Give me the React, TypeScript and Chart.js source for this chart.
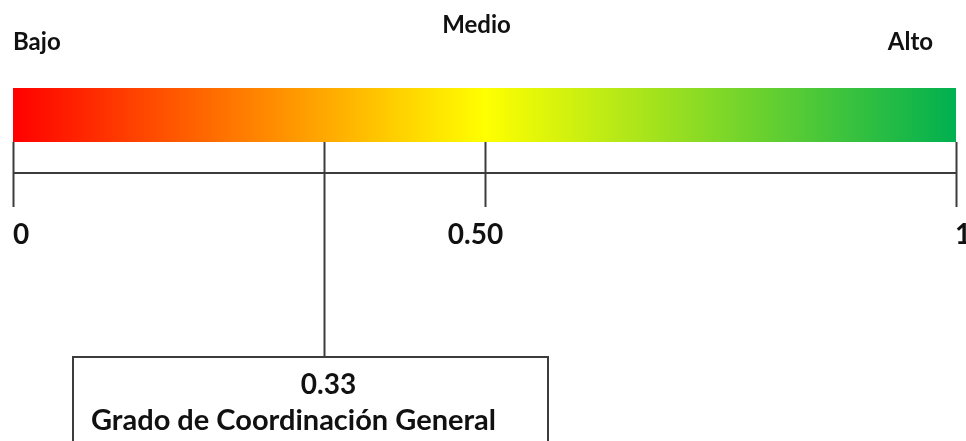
import React, { useEffect, useRef } from "react";
import { Chart, registerables } from "chart.js";

Chart.register(...registerables);

// ---- data ----
const scaleMin = 0;
const scaleMax = 1;
const levelLabels = ["Bajo", "Medio", "Alto"];
const levelPositions = [0, 0.5, 1];
const tickValues = [0, 0.5, 1];
const tickLabels = ["0", "0.50", "1"];
const indicatorValue = 0.33;
const indicatorLabel = "0.33";
const indicatorTitle = "Grado de Coordinación General";
const gradientColors = ["#FF0000", "#FFFF00", "#00B050"];
const gradientStops = [0, 0.5, 1];

const FONT = "Lato, 'Open Sans', sans-serif";
const LINE = "#3c3c3c";
const TEXT = "#111111";

const overlay = {
  id: "scaleOverlay",
  afterDraw(chart: any) {
    const { ctx } = chart;
    const x = chart.scales.x;
    const barBottom = chart.chartArea.bottom;
    const axisY = barBottom + 31;
    const tickEnd = barBottom + 65;
    const boxTop = 357;
    ctx.save();
    ctx.strokeStyle = LINE;
    ctx.lineWidth = 2;
    // axis line
    ctx.beginPath();
    ctx.moveTo(x.getPixelForValue(scaleMin), axisY);
    ctx.lineTo(x.getPixelForValue(scaleMax), axisY);
    ctx.stroke();
    // ticks
    tickValues.forEach((v) => {
      const px = Math.round(x.getPixelForValue(v)) + 0.5;
      ctx.beginPath();
      ctx.moveTo(px, barBottom);
      ctx.lineTo(px, tickEnd);
      ctx.stroke();
    });
    // tick labels
    ctx.fillStyle = TEXT;
    ctx.font = `bold 28px ${FONT}`;
    ctx.textBaseline = "alphabetic";
    tickValues.forEach((v, i) => {
      const px = x.getPixelForValue(v);
      if (i === 0) {
        ctx.textAlign = "left";
        ctx.fillText(tickLabels[i], px, 244);
      } else if (i === tickValues.length - 1) {
        ctx.textAlign = "left";
        ctx.fillText(tickLabels[i], px - 1, 244);
      } else {
        ctx.textAlign = "center";
        ctx.fillText(tickLabels[i], px - 9, 244);
      }
    });
    // level labels
    ctx.font = `bold 24px ${FONT}`;
    levelPositions.forEach((v, i) => {
      const px = x.getPixelForValue(v);
      if (i === 0) {
        ctx.textAlign = "left";
        ctx.fillText(levelLabels[i], px, 50);
      } else if (i === levelPositions.length - 1) {
        ctx.textAlign = "right";
        ctx.fillText(levelLabels[i], px - 23, 50);
      } else {
        ctx.textAlign = "center";
        ctx.fillText(levelLabels[i], px - 8, 33);
      }
    });
    // indicator
    const ix = Math.round(x.getPixelForValue(indicatorValue)) + 0.5;
    ctx.beginPath();
    ctx.moveTo(ix, barBottom);
    ctx.lineTo(ix, boxTop);
    ctx.stroke();
    // box
    const boxLeft = 73;
    const boxRight = 548;
    ctx.beginPath();
    ctx.moveTo(boxLeft, chart.height + 5);
    ctx.lineTo(boxLeft, boxTop);
    ctx.lineTo(boxRight, boxTop);
    ctx.lineTo(boxRight, chart.height + 5);
    ctx.stroke();
    ctx.font = `bold 28px ${FONT}`;
    ctx.textAlign = "center";
    ctx.fillText(indicatorLabel, ix + 4, 394);
    ctx.font = `bold 29px ${FONT}`;
    ctx.textAlign = "left";
    ctx.fillText(indicatorTitle, 91, 430);
    ctx.restore();
  },
};

export default function App() {
  const ref = useRef<HTMLCanvasElement>(null);
  useEffect(() => {
    document.body.style.margin = "0";
    const canvas = ref.current!;
    const chart = new Chart(canvas, {
      type: "bar",
      data: {
        labels: ["escala"],
        datasets: [
          {
            data: [[scaleMin, scaleMax]] as any,
            backgroundColor: (c: any) => {
              const ch = c.chart;
              const area = ch.chartArea;
              if (!area) return gradientColors[0];
              const xs = ch.scales.x;
              const g = ch.ctx.createLinearGradient(
                xs.getPixelForValue(scaleMin),
                0,
                xs.getPixelForValue(scaleMax),
                0
              );
              gradientStops.forEach((s, i) => g.addColorStop(s, gradientColors[i]));
              return g;
            },
            borderWidth: 0,
            barPercentage: 1,
            categoryPercentage: 1,
          },
        ],
      },
      options: {
        indexAxis: "y",
        animation: false,
        responsive: false,
        maintainAspectRatio: false,
        layout: { padding: { left: 13, right: 10, top: 88, bottom: 299 } },
        plugins: { legend: { display: false }, tooltip: { enabled: false } },
        scales: {
          x: { type: "linear", min: scaleMin, max: scaleMax, display: false },
          y: { display: false },
        },
      },
      plugins: [overlay],
    });
    return () => chart.destroy();
  }, []);
  return (
    <div style={{ position: "fixed", left: 0, top: 0, width: 966, height: 441, background: "#fff" }}>
      <canvas ref={ref} width={966} height={441} style={{ display: "block" }} />
    </div>
  );
}
